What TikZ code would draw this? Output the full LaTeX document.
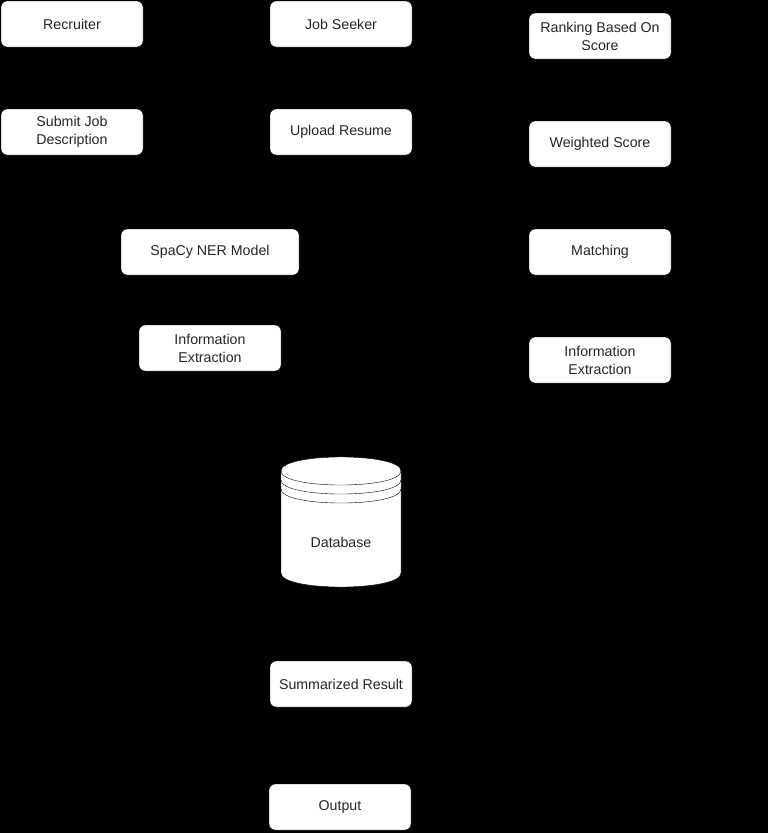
\documentclass[tikz,border=0pt]{standalone}
\usepackage{fontspec}
\setmainfont{Liberation Sans}

\begin{document}
\begin{tikzpicture}[x=1pt, y=-1pt, font=\fontsize{14.2}{18}\selectfont,
    box/.style={draw=black, fill=white, rounded corners=6pt, minimum width=142pt,
        minimum height=46pt, align=center, text=black!85}]
    \fill[black] (0, 0) rectangle (768, 833);
    \useasboundingbox (0, 0) rectangle (768, 833);

    \node (recruiter) [box] at (72, 24) {Recruiter};
    \node (seeker) [box] at (341, 24) {Job Seeker};
    \node (ranking) [box] at (600, 36) {Ranking Based On\\Score};
    \node (submit) [box] at (72, 132) {Submit Job\\Description};
    \node (upload) [box] at (341, 132) {Upload Resume};
    \node (weighted) [box] at (600, 144) {Weighted Score};
    \node (spacy) [box, minimum width=178pt] at (210, 252) {SpaCy NER Model};
    \node (matching) [box] at (600, 252) {Matching};
    \node (extractL) [box] at (210, 348) {Information\\Extraction};
    \node (extractR) [box] at (600, 360) {Information\\Extraction};

    \draw[fill=white] (281, 471) -- (281, 573) .. controls (281, 591.7) and (401, 591.7) .. (401, 573)
        -- (401, 471) .. controls (401, 452.3) and (281, 452.3) .. (281, 471) -- cycle;
    \foreach \dy in {0, 9, 18}
        \draw (281, 471+\dy) .. controls (281, 489.7+\dy) and (401, 489.7+\dy) .. (401, 471+\dy);
    \node (db) [text=black!85] at (341, 542) {Database};

    \node (summary) [box] at (341, 684) {Summarized Result};
    \node (output) [box] at (340, 807) {Output};
\end{tikzpicture}
\end{document}
